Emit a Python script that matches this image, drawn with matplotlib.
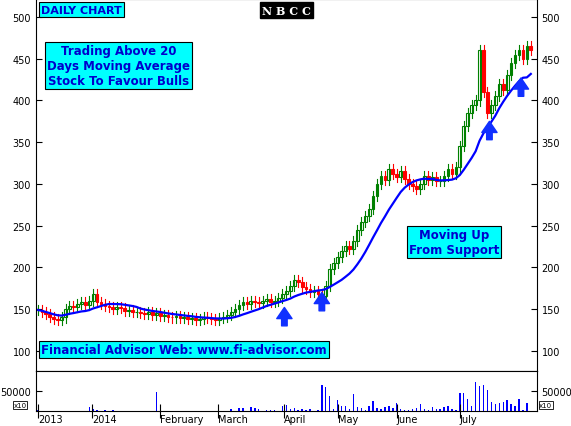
import numpy as np
import matplotlib
matplotlib.use("Agg")
import matplotlib.pyplot as plt

closes = [149,147,144,141,138,137,
          140,150,154,153,156,158,155,160,168,158,
          156,154,152,150,153,151,148,149,146,147,145,144,146,143,145,
          142,143,141,140,142,139,140,138,139,137,138,140,139,138,137,139,141,143,
          146,150,155,158,156,160,158,157,160,162,158,160,163,
          168,172,178,185,182,176,
          174,170,172,168,166,178,198,
          205,212,220,226,222,232,
          245,255,262,270,285,300,
          310,305,318,312,308,315,306,300,298,
          294,300,310,305,308,303,304,310,
          318,312,320,345,370,
          385,395,400,460,410,
          385,395,405,420,412,430,
          445,455,460,450,465,460]
volumes = [2000,0,0,0,0,0, 0,0,0,0,0,0,0,10000,4000,3000,
           0,2000,0,2000,1000,0,0,0,0,0,0,0,0,0,48000,
           0,0,0,0,0,0,0,0,0,0,0,0,0,0,0,0,0,0,
           5000,0,8000,8000,0,9000,7000,4000,0,2000,3000,3000,0,
           12000,14000,6000,8000,2000,4000,
           3000,6000,0,2000,65000,60000,38000,
           6000,27000,12000,12000,6000,43000,
           10000,8000,3000,12000,25000,8000,
           6000,10000,12000,8000,20000,5000,2000,2000,6000,
           8000,18000,6000,3000,10000,4000,4000,10000,
           12000,6000,2000,45000,45000,
           30000,12000,72000,62000,65000,
           53000,22000,18000,20000,22000,28000,
           18000,12000,30000,2000,20000,0]
date_ticks = [0, 13.7, 31, 45.6, 62.5, 76, 91, 107]
date_labels = ["2013", "2014", "February", "March", "April", "May", "June", "July"]

closes = np.array(closes, float)
opens = np.r_[closes[0], closes[:-1]]
n = len(closes)
idx = np.arange(n)
win = 12
ma = np.array([closes[max(0, i - win + 1):i + 1].mean() for i in range(n)])

fig = plt.figure(figsize=(5.71, 4.27), dpi=100)
ax = fig.add_axes([0.063, 0.129, 0.877, 0.871])
axv = fig.add_axes([0.063, 0.035, 0.877, 0.094], sharex=ax)

for i in range(n):
    o, c = opens[i], closes[i]
    hi = max(o, c) + 6
    lo = min(o, c) - 6
    up = c >= o
    col = "#008000" if up else "#ff0000"
    ax.plot([i, i], [lo, hi], color=col, lw=0.8)
    ax.bar(i, max(abs(c - o), 0.8), bottom=min(o, c), width=0.7,
           facecolor="white" if up else col, edgecolor=col, lw=0.8)
ax.plot(idx, ma, color="#0000ff", lw=1.6)

for xi, yv in [(62.5, 152), (72, 170), (99, 237), (114.5, 375), (122.5, 427)]:
    ax.annotate("", xy=(xi, yv), xytext=(xi, yv - 22),
                arrowprops=dict(facecolor="#1030ff", edgecolor="#1030ff", width=4, headwidth=11, headlength=8))

ax.set_ylim(76, 521.6)
ax.set_xlim(-0.5, n + 0.5)
ax.set_yticks(range(100, 501, 50))
ax.tick_params(axis="y", labelsize=7, right=True, labelright=True, direction="in", length=4)
ax.tick_params(axis="x", bottom=False, labelbottom=False)

box = dict(facecolor="#00ffff", edgecolor="black", lw=0.8, pad=1.5)
ax.text(0.01, 0.985, "DAILY CHART", transform=ax.transAxes, color="#0000cc", weight="bold",
        fontsize=8, va="top", bbox=box)
ax.text(0.50, 0.985, "N B C C", transform=ax.transAxes, color="white", weight="bold",
        fontsize=8, va="top", ha="center", family="DejaVu Serif",
        bbox=dict(facecolor="black", edgecolor="black", pad=1.5))
ax.text(0.165, 0.88, "Trading Above 20\nDays Moving Average\nStock To Favour Bulls",
        transform=ax.transAxes, color="#0000cc", weight="bold", fontsize=8.5, va="top", ha="center",
        multialignment="center", bbox=box)
ax.text(0.835, 0.385, "Moving Up\nFrom Support", transform=ax.transAxes, color="#0000cc", weight="bold",
        fontsize=8.5, va="top", ha="center", bbox=box)
ax.text(0.01, 0.075, "Financial Advisor Web: www.fi-advisor.com", transform=ax.transAxes,
        color="#0000cc", weight="bold", fontsize=8.5, va="top", bbox=box)

axv.bar(idx, volumes, width=0.35, color="#0000ff")
axv.set_ylim(0, 100000)
axv.set_yticks([50000])
axv.set_yticklabels(["50000"])
axv.tick_params(axis="y", labelsize=7, right=True, labelright=True, direction="in", length=4)
axv.set_xticks(date_ticks)
axv.set_xticklabels(date_labels, ha="left", fontsize=7)
axv.tick_params(axis="x", length=10, direction="inout", pad=-3)
for xx in [-0.045, 1.005]:
    axv.text(xx, 0.1, "x10", transform=axv.transAxes, fontsize=5,
             bbox=dict(facecolor="white", edgecolor="black", lw=0.6, pad=0.5))

fig.savefig("out.png", dpi=100)
